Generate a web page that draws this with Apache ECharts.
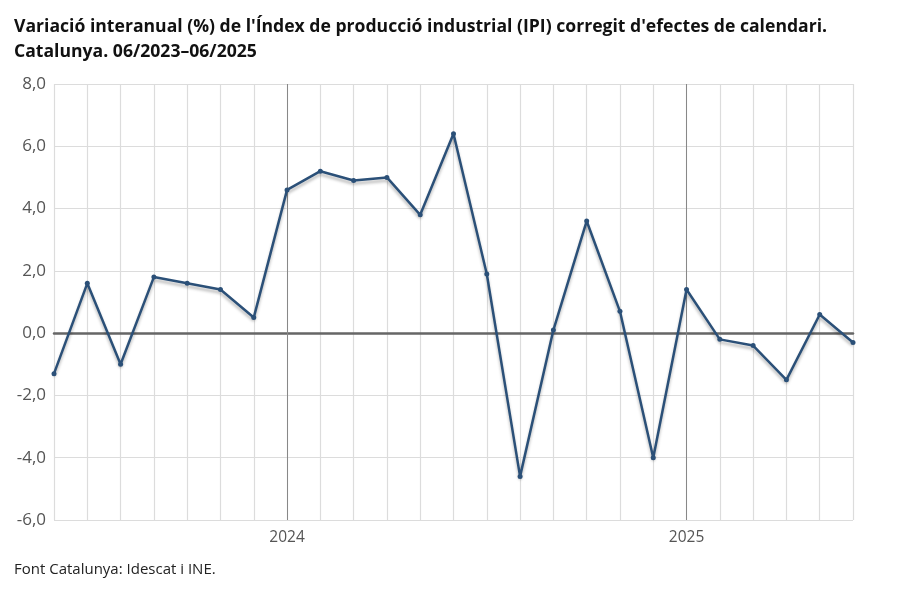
<!DOCTYPE html>
<html>
<head>
<meta charset="utf-8">
<script src="https://cdn.jsdelivr.net/npm/echarts@6/dist/echarts.min.js"></script>
<style>
  html, body { margin: 0; padding: 0; background: #fff; }
  #chart { width: 898px; height: 598px; }
</style>
</head>
<body>
<div id="chart"></div>
<script>
// mesos 06/2023 - 06/2025
var months = ['06/2023', '07/2023', '08/2023', '09/2023', '10/2023', '11/2023', '12/2023',
  '01/2024', '02/2024', '03/2024', '04/2024', '05/2024', '06/2024', '07/2024', '08/2024',
  '09/2024', '10/2024', '11/2024', '12/2024', '01/2025', '02/2025', '03/2025', '04/2025',
  '05/2025', '06/2025'];
// variació interanual (%)
var ipiValues = [-1.3, 1.6, -1.0, 1.8, 1.6, 1.4, 0.5,
  4.6, 5.2, 4.9, 5.0, 3.8, 6.4, 1.9, -4.6,
  0.1, 3.6, 0.7, -4.0, 1.4, -0.2, -0.4, -1.5,
  0.6, -0.3];
var yearStarts = ['01/2024', '01/2025'];
var yTicks = { min: -6, max: 8, interval: 2 };

var chart = echarts.init(document.getElementById('chart'));

var option = {
  animation: false,
  title: {
    text: "Variació interanual (%) de l'Índex de producció industrial (IPI) corregit d'efectes de calendari.\nCatalunya. 06/2023–06/2025",
    left: 9,
    top: 9,
    textStyle: {
      fontFamily: 'Open Sans',
      fontWeight: 'bold',
      fontSize: 17.6,
      lineHeight: 25,
      color: '#111'
    }
  },
  graphic: [{
    type: 'text',
    left: 14,
    top: 562,
    style: {
      text: 'Font Catalunya: Idescat i INE.',
      font: '15px "Open Sans"',
      fill: '#222'
    }
  }],
  grid: { left: 54, right: 45, top: 84, bottom: 78 },
  xAxis: {
    type: 'category',
    data: months,
    boundaryGap: false,
    axisLine: { onZero: true, lineStyle: { color: '#666', width: 2.5 } },
    axisTick: { show: false },
    axisLabel: {
      interval: 0,
      margin: 10,
      color: '#555',
      fontFamily: 'Open Sans',
      fontSize: 15.5,
      formatter: function (v) {
        return v.slice(0, 2) === '01' ? v.slice(3) : '';
      }
    },
    splitLine: { show: true, lineStyle: { color: '#dcdcdc', width: 1.2 } }
  },
  yAxis: {
    type: 'value',
    min: yTicks.min,
    max: yTicks.max,
    interval: yTicks.interval,
    axisLine: { show: false },
    axisTick: { show: false },
    axisLabel: {
      margin: 8,
      color: '#555',
      fontFamily: 'Open Sans',
      fontSize: 17,
      formatter: function (v) { return v.toFixed(1).replace('.', ','); }
    },
    splitLine: { lineStyle: { color: '#dcdcdc', width: 1.2 } }
  },
  series: [{
    type: 'line',
    data: ipiValues,
    symbol: 'circle',
    symbolSize: 5,
    itemStyle: { color: '#2b5078' },
    lineStyle: {
      color: '#2b5078',
      width: 2.5,
      shadowColor: 'rgba(0,0,0,0.28)',
      shadowBlur: 3,
      shadowOffsetY: 3
    },
    z: 5,
    markLine: {
      silent: true,
      symbol: 'none',
      label: { show: false },
      lineStyle: { color: '#888', width: 1, type: 'solid' },
      data: yearStarts.map(function (m) { return { xAxis: m }; }),
      z: 1
    }
  }]
};

chart.setOption(option);
</script>
</body>
</html>
